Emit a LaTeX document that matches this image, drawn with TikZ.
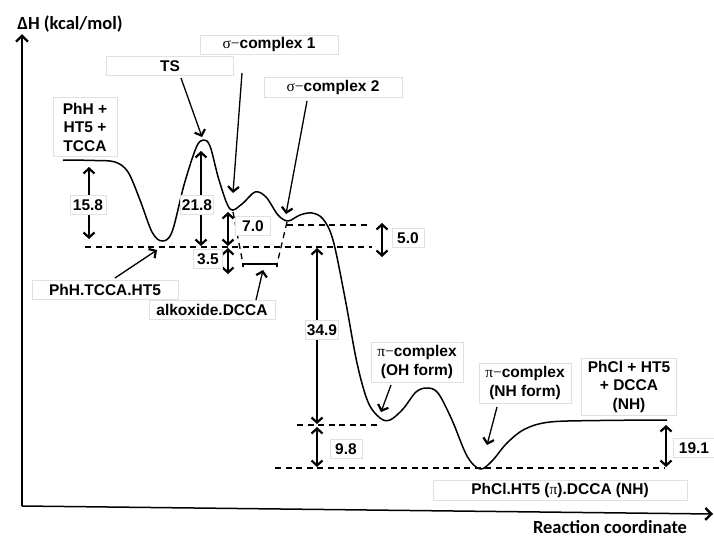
\documentclass[tikz,border=0pt]{standalone}
\usepackage{fontspec}
\setmainfont{Liberation Sans}
\newfontfamily\calib{Carlito}
\newfontfamily\grk{Liberation Serif}
\usetikzlibrary{arrows.meta}
\newcommand\mysig{{\grk\mdseries σ−}}
\newcommand\mypi{{\grk\mdseries π}}
\begin{document}
\begin{tikzpicture}[x=1pt,y=-1pt,
  lbl/.style={draw=black!12, fill=white, line width=0.8pt, inner sep=0pt,
    font=\fontsize{15.5}{18.5}\selectfont\bfseries, align=center},
  num/.style={lbl, minimum height=19pt},
  tip/.style={-{Straight Barb[length=5pt,width=11pt,line width=2.2pt]}},
  ptr/.style={tip, line width=1.3pt},
  dim/.style={{Straight Barb[length=5pt,width=11pt,line width=2.2pt]}-{Straight Barb[length=5pt,width=11pt,line width=2.2pt]}, line width=1.3pt},
  dsh/.style={line width=1.3pt, dash pattern=on 6pt off 4.5pt},
  curve/.style={line width=1.5pt, line join=round},
  axis/.style={line width=1.5pt, -{Straight Barb[length=6pt,width=12pt,line width=2.4pt]}},
  axlbl/.style={font=\calib\bfseries\fontsize{18.5}{20}\selectfont, inner sep=0pt}]
\useasboundingbox (0,0) rectangle (714,538);

% axes
\coordinate (o) at (22,506);
\coordinate (ytop) at (22,34);
\coordinate (xend) at (713,514);
\draw[axis] (o) -- (ytop);
\draw[axis] (o) -- (xend);
\node[axlbl] (ylab) at (70,24) {ΔH (kcal/mol)};
\node[axlbl] (xlab) at (610,527) {Reaction coordinate};

% dashed reference levels
\coordinate (l1a) at (85,247);  \coordinate (l1b) at (372,247);
\coordinate (l2a) at (287,225); \coordinate (l2b) at (370,225);
\coordinate (l3a) at (297,425); \coordinate (l3b) at (378,425);
\coordinate (l4a) at (275,468); \coordinate (l4b) at (665,468);
\draw[dsh] (l1a) -- (l1b);
\draw[dsh] (l2a) -- (l2b);
\draw[dsh] (l3a) -- (l3b);
\draw[dsh] (l4a) -- (l4b);

% alkoxide bracket
\coordinate (s1) at (233,212); \coordinate (k1) at (243,264);
\coordinate (k2) at (277,264); \coordinate (s2) at (287,222);
\draw[dsh] (s1) -- (k1);
\draw[dsh] (s2) -- (k2);
\draw[line width=1.3pt] ([yshift=-3pt]k1) -- (k1) -- (k2) -- ([yshift=-3pt]k2);

% energy profile
\draw[curve] plot[smooth, tension=0.55] coordinates {
 (63,160) (95,160.5) (115,162) (128,172) (140,200) (152,232) (162,241) (172,232)
 (184,185) (196,148) (203,140) (210,146) (219,180) (230,209) (242,204)
 (255,192) (266,197) (278,215) (288,221) (300,215) (312,213) (323,219)
 (333,240) (345,298) (357,363) (368,402) (380,418) (390,420) (403,409)
 (416,392) (427,388) (438,393) (452,420) (467,456) (480,469) (492,461)
 (507,443) (525,429) (550,422) (600,420.5) (667,420)};

% energy-difference arrows
\coordinate (a1t) at (89,167);  \coordinate (a1b) at (89,239);
\coordinate (a2t) at (201,151); \coordinate (a2b) at (201,246);
\coordinate (a3t) at (228,212); \coordinate (a3b) at (228,246);
\coordinate (a4t) at (228,248); \coordinate (a4b) at (228,274);
\coordinate (a5t) at (382,223); \coordinate (a5b) at (382,257);
\coordinate (a6t) at (317,248); \coordinate (a6b) at (317,424);
\coordinate (a7t) at (317,427); \coordinate (a7b) at (317,467);
\coordinate (a8t) at (666,425); \coordinate (a8b) at (666,467);
\draw[dim] (a1t) -- (a1b);
\draw[dim] (a2t) -- (a2b);
\draw[dim] (a3t) -- (a3b);
\draw[dim] (a4t) -- (a4b);
\draw[dim] (a5t) -- (a5b);
\draw[dim] (a6t) -- (a6b);
\draw[dim] (a7t) -- (a7b);
\draw[dim] (a8t) -- (a8b);

\node[num, minimum width=36pt] (n158) at (88,205) {15.8};
\node[num, minimum width=33pt] (n218) at (197,205) {21.8};
\node[num, minimum width=35pt] (n70)  at (253,226) {7.0};
\node[num, minimum width=29pt] (n35)  at (208,259) {3.5};
\node[num, minimum width=32pt] (n50)  at (408,238) {5.0};
\node[num, minimum width=33pt] (n349) at (322,330) {34.9};
\node[num, minimum width=32pt] (n98)  at (346,449) {9.8};
\node[num, minimum width=41pt] (n191) at (694,448) {19.1};

% state labels
\node[lbl, minimum width=127pt, minimum height=19pt] (ts) at (170,66) {TS};
\node[lbl, minimum width=138pt, minimum height=19pt] (sc1) at (269,44.5) {\mysig complex 1};
\node[lbl, minimum width=138pt, minimum height=20pt] (sc2) at (333,87) {\mysig complex 2};
\node[lbl, minimum width=64pt, minimum height=59pt] (react) at (85,127) {PhH +\\HT5 +\\TCCA};
\node[lbl, minimum width=146pt, minimum height=19pt] (pre) at (105,289.5) {PhH.TCCA.HT5};
\node[lbl, minimum width=126pt, minimum height=19pt] (alk) at (212,309.5) {alkoxide.DCCA};
\node[lbl, minimum width=92pt, minimum height=40pt] (pioh) at (417,362) {\mypi{\grk\mdseries −}complex\\(OH form)};
\node[lbl, minimum width=92pt, minimum height=40pt] (pinh) at (525,383) {\mypi{\grk\mdseries −}complex\\(NH form)};
\node[lbl, minimum width=95pt, minimum height=57pt] (prod) at (629,386.5) {PhCl + HT5\\+ DCCA\\(NH)};
\node[lbl, minimum width=254pt, minimum height=20pt] (fin) at (560,490) {PhCl.HT5 (\mypi).DCCA (NH)};

% pointer arrows
\coordinate (p1s) at (181,78);  \coordinate (p1e) at (202,137);
\coordinate (p2s) at (242,73);  \coordinate (p2e) at (233,193);
\coordinate (p3s) at (307,101); \coordinate (p3e) at (286,214);
\coordinate (p4s) at (115,278); \coordinate (p4e) at (157,250);
\coordinate (p5s) at (256,300); \coordinate (p5e) at (263,270);
\coordinate (p6s) at (391,385); \coordinate (p6e) at (381,412);
\coordinate (p7s) at (497,407); \coordinate (p7e) at (487,445);
\draw[ptr] (p1s) -- (p1e);
\draw[ptr] (p2s) -- (p2e);
\draw[ptr] (p3s) -- (p3e);
\draw[ptr] (p4s) -- (p4e);
\draw[ptr] (p5s) -- (p5e);
\draw[ptr] (p6s) -- (p6e);
\draw[ptr] (p7s) -- (p7e);
\end{tikzpicture}
\end{document}
